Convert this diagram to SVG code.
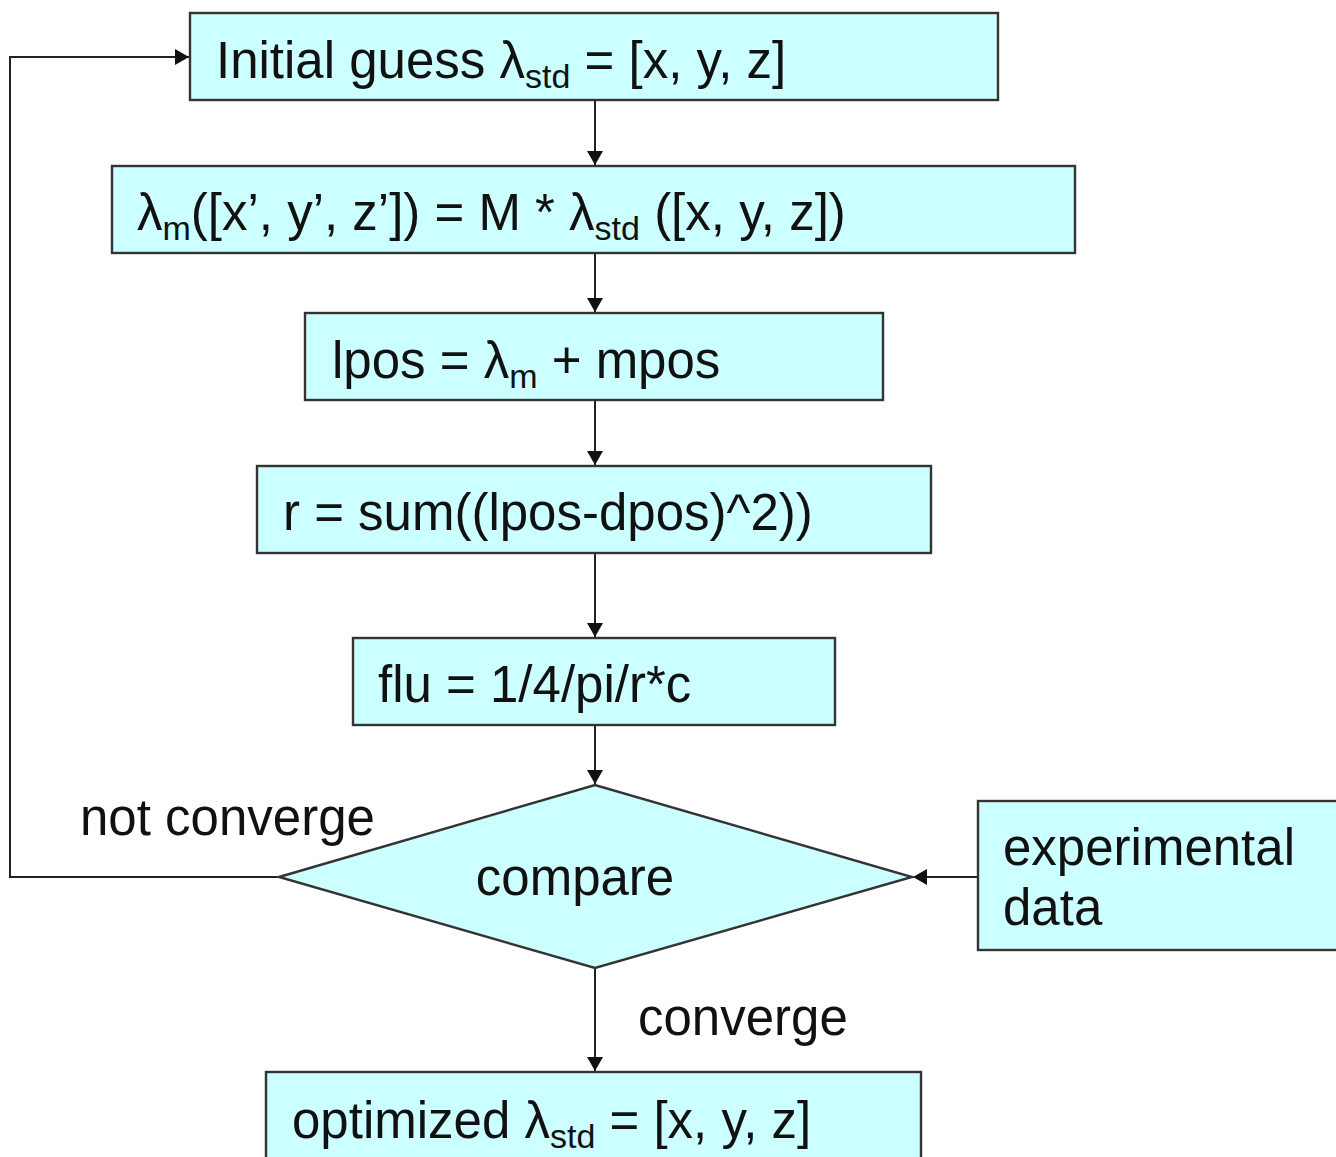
<svg xmlns="http://www.w3.org/2000/svg" width="1336" height="1157" viewBox="0 0 1336 1157">
<style>
.box{fill:#ccffff;stroke:#333;stroke-width:2.4}
.t{font-family:"Liberation Sans",Arial,sans-serif;font-size:51px;fill:#111}
.sub{font-size:34px}
.c{fill:none;stroke:#222;stroke-width:2}
</style>
<defs>
<marker id="ah" viewBox="0 0 14 16" refX="14" refY="8" markerWidth="14" markerHeight="16" markerUnits="userSpaceOnUse" orient="auto">
<path d="M0,0 L14,8 L0,16 Z" fill="#111"/>
</marker>
</defs>
<rect width="1336" height="1157" fill="#fff"/>
<g id="connectors">
<line class="c" x1="595" y1="100" x2="595" y2="165" marker-end="url(#ah)"/>
<line class="c" x1="595" y1="253" x2="595" y2="312" marker-end="url(#ah)"/>
<line class="c" x1="595" y1="400" x2="595" y2="465" marker-end="url(#ah)"/>
<line class="c" x1="595" y1="553" x2="595" y2="637" marker-end="url(#ah)"/>
<line class="c" x1="595" y1="725" x2="595" y2="784" marker-end="url(#ah)"/>
<line class="c" x1="595" y1="968" x2="595" y2="1071" marker-end="url(#ah)"/>
<line class="c" x1="978" y1="877" x2="913" y2="877" marker-end="url(#ah)"/>
<polyline class="c" points="279,877 10,877 10,57 189,57" marker-end="url(#ah)"/>
</g>
<g id="n1">
<rect class="box" x="190" y="13" width="808" height="87"/>
<text class="t" x="216" y="78">Initial guess λ<tspan class="sub" dy="10">std</tspan><tspan dy="-10"> = [x, y, z]</tspan></text>
</g>
<g id="n2">
<rect class="box" x="112" y="166" width="963" height="87"/>
<text class="t" x="137" y="230">λ<tspan class="sub" dy="10">m</tspan><tspan dy="-10">([x’, y’, z’]) = M * λ</tspan><tspan class="sub" dy="10">std</tspan><tspan dy="-10"> ([x, y, z])</tspan></text>
</g>
<g id="n3">
<rect class="box" x="305" y="313" width="578" height="87"/>
<text class="t" x="332" y="378">lpos = λ<tspan class="sub" dy="10">m</tspan><tspan dy="-10"> + mpos</tspan></text>
</g>
<g id="n4">
<rect class="box" x="257" y="466" width="674" height="87"/>
<text class="t" x="283" y="530">r = sum((lpos-dpos)^2))</text>
</g>
<g id="n5">
<rect class="box" x="353" y="638" width="482" height="87"/>
<text class="t" x="378" y="702">flu = 1/4/pi/r*c</text>
</g>
<g id="n6">
<polygon class="box" points="279,877 595,785 912,877 595,968"/>
<text class="t" x="575" y="895" text-anchor="middle">compare</text>
</g>
<g id="n7">
<rect class="box" x="978" y="801" width="370" height="149"/>
<text class="t" x="1003" y="865">experimental</text>
<text class="t" x="1003" y="925">data</text>
</g>
<g id="n8">
<rect class="box" x="266" y="1072" width="655" height="100"/>
<text class="t" x="292" y="1138">optimized λ<tspan class="sub" dy="10">std</tspan><tspan dy="-10"> = [x, y, z]</tspan></text>
</g>
<g id="labels">
<text class="t" x="80" y="835">not converge</text>
<text class="t" x="638" y="1035">converge</text>
</g>
</svg>
